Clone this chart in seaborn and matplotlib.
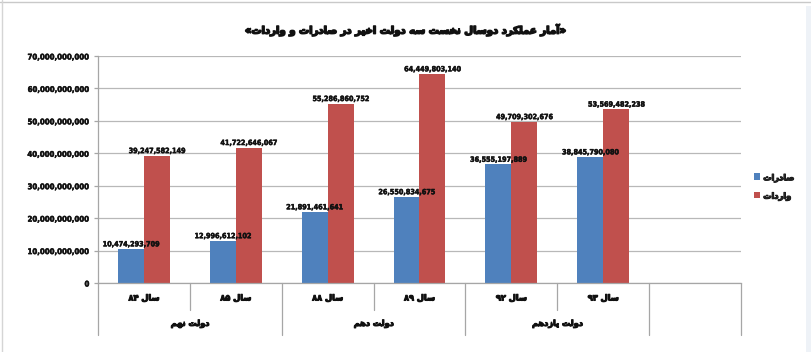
import matplotlib
matplotlib.use("Agg")
import matplotlib.pyplot as plt
import matplotlib.patheffects as pe
import seaborn as sns
import pandas as pd
from matplotlib import font_manager as fm
from matplotlib.ft2font import FT2Font
from matplotlib.font_manager import FontProperties
from matplotlib.patches import Rectangle, Patch
from matplotlib.lines import Line2D

# ---------------- data ----------------
title_text = "آمار عملکرد دوسال نخست سه دولت اخیر در صادرات و واردات"
years = ["سال ۸۴", "سال ۸۵", "سال ۸۸", "سال ۸۹", "سال ۹۲", "سال ۹۳"]
governments = ["دولت نهم", "دولت دهم", "دولت یازدهم"]
gov_years = [[0, 1], [2, 3], [4, 5]]
series_names = ["صادرات", "واردات"]
exports = [10474293709, 12996612102, 21891461641, 26550834675, 36555197889, 38845790080]
imports = [39247582149, 41722646067, 55286860752, 64449803140, 49709302676, 53569482238]
y_ticks = [0, 10e9, 20e9, 30e9, 40e9, 50e9, 60e9, 70e9]
colors = ["#4F81BD", "#C0504D"]

# ---------------- fonts ----------------
sns.set_theme(style="white")
plt.rcParams["font.family"] = ["DejaVu Sans"]

fa_prop = FontProperties(family="DejaVu Sans", weight="bold")


def font_has(prop, chars):
    try:
        path = fm.findfont(prop, fallback_to_default=False)
        ft = FT2Font(path)
        return all(ft.get_char_index(ord(c)) != 0 for c in chars if not c.isspace())
    except Exception:
        return False


if not font_has(fa_prop, "\uFEB3\uFE8E\uFEDE"):
    fa_prop = FontProperties(family="DejaVu Sans", weight="normal")

# number font: prefer a narrow bold face
num_path = None
num_scale = 1.0
for f in fm.fontManager.ttflist:
    if f.name == "Liberation Sans Narrow" and f.weight in (700, "bold") and f.style == "normal":
        num_path = f.fname
        num_scale = 1.0
        break
if num_path is None:
    for f in fm.fontManager.ttflist:
        if f.name == "DejaVu Sans" and "Condensed-Bold" in f.fname and "Oblique" not in f.fname:
            num_path = f.fname
            num_scale = 0.70
            break
if num_path is None:
    num_path = fm.findfont(FontProperties(family="Liberation Sans", weight="bold"))
    num_scale = 0.78

# ---------------- simple Persian shaping ----------------
FORMS = {
    "آ": [("\uFE81", "\uFE82", None, None)],
    "ا": [("\uFE8D", "\uFE8E", None, None)],
    "ب": [("\uFE8F", "\uFE90", "\uFE91", "\uFE92")],
    "ت": [("\uFE95", "\uFE96", "\uFE97", "\uFE98")],
    "خ": [("\uFEA5", "\uFEA6", "\uFEA7", "\uFEA8")],
    "د": [("\uFEA9", "\uFEAA", None, None)],
    "ر": [("\uFEAD", "\uFEAE", None, None)],
    "ز": [("\uFEAF", "\uFEB0", None, None)],
    "س": [("\uFEB1", "\uFEB2", "\uFEB3", "\uFEB4")],
    "ص": [("\uFEB9", "\uFEBA", "\uFEBB", "\uFEBC")],
    "ع": [("\uFEC9", "\uFECA", "\uFECB", "\uFECC")],
    "ک": [("\uFB8E", "\uFB8F", "\uFB90", "\uFB91"), ("\uFED9", "\uFEDA", "\uFEDB", "\uFEDC")],
    "ل": [("\uFEDD", "\uFEDE", "\uFEDF", "\uFEE0")],
    "م": [("\uFEE1", "\uFEE2", "\uFEE3", "\uFEE4")],
    "ن": [("\uFEE5", "\uFEE6", "\uFEE7", "\uFEE8")],
    "ه": [("\uFEE9", "\uFEEA", "\uFEEB", "\uFEEC")],
    "و": [("\uFEED", "\uFEEE", None, None)],
    "ی": [("\uFBFC", "\uFBFD", "\uFBFE", "\uFBFF"), ("\uFEEF", "\uFEF0", "\uFEF3", "\uFEF4")],
}
SHAPES = {}
for ch, options in FORMS.items():
    chosen = options[-1]
    for opt in options:
        if font_has(fa_prop, "".join(x for x in opt if x)):
            chosen = opt
            break
    SHAPES[ch] = chosen

DIGITS = {}
for i in range(10):
    p = chr(0x06F0 + i)
    if font_has(fa_prop, p):
        DIGITS[p] = p
    elif font_has(fa_prop, chr(0x0660 + i)):
        DIGITS[p] = chr(0x0660 + i)
    else:
        DIGITS[p] = str(i)


def shape_word(word):
    out = []
    n = len(word)
    for i, c in enumerate(word):
        if c not in SHAPES:
            out.append(DIGITS.get(c, c))
            continue
        iso, fin, ini, med = SHAPES[c]
        prev = word[i - 1] if i > 0 else None
        nxt = word[i + 1] if i < n - 1 else None
        jp = prev in SHAPES and SHAPES[prev][2] is not None
        jn = nxt in SHAPES and ini is not None
        if jp and jn:
            g = med
        elif jp:
            g = fin
        elif jn:
            g = ini
        else:
            g = iso
        out.append(g)
    return "".join(out)


def fa(text):
    words = text.split(" ")
    vis = []
    for w in words:
        if all(c in DIGITS for c in w):
            vis.append("".join(DIGITS[c] for c in w))
        else:
            vis.append(shape_word(w)[::-1])
    return " ".join(vis[::-1])


bold_fx = [pe.withStroke(linewidth=0.8, foreground="#111111")]
bold_fx_title = [pe.withStroke(linewidth=1.1, foreground="#111111")]
num_fx = [pe.withStroke(linewidth=0.35, foreground="#111111")]

# ---------------- figure ----------------
W, H = 812, 352
fig = plt.figure(figsize=(W / 100, H / 100), dpi=100)
fig.patch.set_facecolor("white")
x0, x1, y_top, y_zero = 98, 741, 56, 283
ax = fig.add_axes([x0 / W, (H - y_zero) / H, (x1 - x0) / W, (y_zero - y_top) / H])

df = pd.DataFrame({
    "year": years * 2,
    "series": [series_names[0]] * len(years) + [series_names[1]] * len(years),
    "value": exports + imports,
})
sns.barplot(data=df, x="year", y="value", hue="series", order=years,
            hue_order=series_names, palette=colors, width=0.565, gap=0,
            saturation=1, errorbar=None, legend=False, linewidth=0, ax=ax)

ax.set_xlim(-0.5, len(years) + 0.5)
ax.set_ylim(0, 70e9)
ax.set_yticks(y_ticks)
ax.set_yticklabels([f"{int(v):,}" for v in y_ticks])
ax.set_xticks([])
ax.set_xlabel("")
ax.set_ylabel("")
ax.set_axisbelow(True)
ax.yaxis.grid(True, color="#b8b8b8", lw=0.9)
ax.set_facecolor("white")
for s in ["top", "right"]:
    ax.spines[s].set_visible(False)
for s in ["left", "bottom"]:
    ax.spines[s].set_color("#a6a6a6")
    ax.spines[s].set_linewidth(0.9)
ax.tick_params(axis="y", length=3, width=0.9, color="#a6a6a6", pad=3.2, left=True)

num_tick = FontProperties(fname=num_path, size=8.0 * num_scale)
num_lab = FontProperties(fname=num_path, size=7.4 * num_scale)
for lab in ax.get_yticklabels():
    lab.set_fontproperties(num_tick)
    lab.set_color("#111111")
    lab.set_path_effects(num_fx)

for cont, vals in zip(ax.containers, [exports, imports]):
    labs = ax.bar_label(cont, labels=[f"{v:,}" for v in vals], padding=1.2,
                        fontproperties=num_lab, color="#111111")
    for t in labs:
        t.set_path_effects(num_fx)

# category axis labels and separators
tr = ax.get_xaxis_transform()
fa_small = fa_prop.copy()
fa_small.set_size(7.5)
year_texts = []
for i, y in enumerate(years):
    t = ax.text(i, -0.066, fa(y), transform=tr, ha="center", va="center",
                fontproperties=fa_small, color="#111111", path_effects=bold_fx)
    year_texts.append(t)
gov_texts = []
for g, idx in zip(governments, gov_years):
    t = ax.text(sum(idx) / len(idx), -0.178, fa(g), transform=tr, ha="center",
                va="center", fontproperties=fa_small, color="#111111",
                path_effects=bold_fx)
    gov_texts.append(t)

short_end = -(310 - y_zero) / (y_zero - y_top)
long_end = -(335 - y_zero) / (y_zero - y_top)
bounds = [b - 0.5 for b in range(len(years) + 2)]
inner = [idx[0] + 0.5 for idx in gov_years]
for b in bounds:
    end = short_end if b in inner else long_end
    ax.plot([b, b], [0, end], transform=tr, color="#a6a6a6", lw=0.9,
            clip_on=False)

# title
title = fig.text(0.5, 1 - 30 / H, "«" + fa(title_text) + "»", ha="center",
                 va="center", fontproperties=fa_prop, fontsize=10, color="#111111",
                 path_effects=bold_fx_title)

# legend
handles = [Patch(facecolor=c, edgecolor="none") for c in colors]
leg = fig.legend(handles, [fa(s) for s in series_names], loc="center left",
                 bbox_to_anchor=(745 / W, 1 - 187 / H), frameon=False,
                 handlelength=0.55, handleheight=0.55, handletextpad=0.3,
                 labelspacing=0.9, prop=fa_small)
for t in leg.get_texts():
    t.set_path_effects(bold_fx)

# size fitting to reference widths
fig.canvas.draw()
r = fig.canvas.get_renderer()


def fit(texts, ref, target):
    w = ref.get_window_extent(r).width
    if w > 0:
        s = ref.get_fontsize() * target / w
        for t in texts:
            t.set_fontsize(s)


fit([title], title, 322)
fit(year_texts + gov_texts, year_texts[0], 31)
fit(leg.get_texts(), leg.get_texts()[0], 31)

# outer frame
fig.add_artist(Line2D([0, 1], [1 - 2 / H] * 2, transform=fig.transFigure,
                      color="#c9c9c9", lw=1))
fig.add_artist(Line2D([2 / W] * 2, [0, 1], transform=fig.transFigure,
                      color="#d5d5d5", lw=1))
fig.add_artist(Rectangle((806 / W, 0), 6 / W, 1 - 6 / H, transform=fig.transFigure,
                         facecolor="#eef2f7", edgecolor="none"))

fig.savefig("out.png", dpi=100, facecolor="white")
